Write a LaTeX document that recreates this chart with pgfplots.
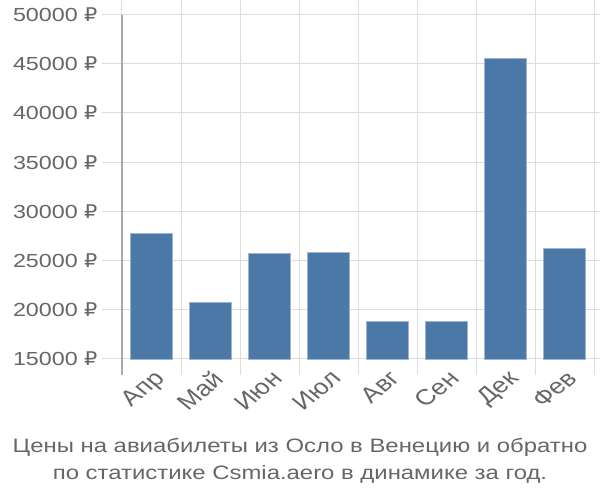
\documentclass[border=0pt]{standalone}
\usepackage{pgfplots}
\pgfplotsset{compat=1.18}
\usepackage{fontspec}
\setmainfont[FakeStretch=1.23]{Liberation Sans}
\newfontfamily\plainfont{Liberation Sans}
\newfontfamily\rubfont[FakeStretch=1.1]{DejaVu Sans}
\newcommand{\rub}{{\rubfont ₽}}

\definecolor{barblue}{HTML}{4C78A8}
\definecolor{baredge}{HTML}{9DB5D3}
\definecolor{gridgray}{HTML}{DDDDDD}
\definecolor{axisgray}{HTML}{AAAAAA}
\definecolor{txtgray}{HTML}{666666}

\pgfplotstableread{
idx price
0 27770
1 20740
2 25730
3 25830
4 18840
5 18840
6 45500
7 26240
}\prices

\begin{document}
\begin{tikzpicture}[x=1bp,y=1bp]
\useasboundingbox (-122,-141) rectangle (478,359);
\begin{axis}[
    at={(0,0)}, anchor=south west,
    scale only axis,
    width=472bp, height=344.4bp,
    xmin=-0.5, xmax=7.5,
    ymin=15000, ymax=50000,
    axis line style={draw=none},
    scaled y ticks=false,
    ytick={15000,20000,...,50000},
    yticklabels={15000 \rub,20000 \rub,25000 \rub,30000 \rub,35000 \rub,40000 \rub,45000 \rub,50000 \rub},
    ymajorgrids,
    grid style={gridgray, line width=1bp},
    ytick style={gridgray, line width=1bp},
    y tick label style={font=\fontsize{19}{19}\selectfont, text=txtgray, anchor=east, xshift=-1bp},
    tick align=outside,
    major tick length=20bp,
    xtick={0,...,7},
    xticklabels={Апр,Май,Июн,Июл,Авг,Сен,Дек,Фев},
    x tick style={draw=none},
    x tick label style={font=\plainfont\fontsize{22}{22}\selectfont, text=txtgray, anchor=north east, inner sep=0pt, xshift=1bp, yshift=10bp, xscale=1.23, rotate=45},
    extra x ticks={-0.5,0.5,...,7.5},
    extra x tick labels={},
    extra x tick style={grid=major, major grid style={gridgray, line width=1bp}, x tick style={draw=gridgray, line width=1bp}, major tick length=16bp},
    clip=false,
]
\addplot[ybar, bar width=0.712, fill=barblue, draw=baredge, line width=0.8bp] table[x=idx, y=price] {\prices};
\end{axis}
\draw[axisgray, line width=1.2bp] (0,344.4) -- (0,-16);
\node[anchor=base, text=txtgray, font=\fontsize{19.5}{19.5}\selectfont] at (178,-94) {Цены на авиабилеты из Осло в Венецию и обратно};
\node[anchor=base, text=txtgray, font=\fontsize{19.5}{19.5}\selectfont] at (178,-121) {по статистике Csmia.aero в динамике за год.};
\end{tikzpicture}
\end{document}
